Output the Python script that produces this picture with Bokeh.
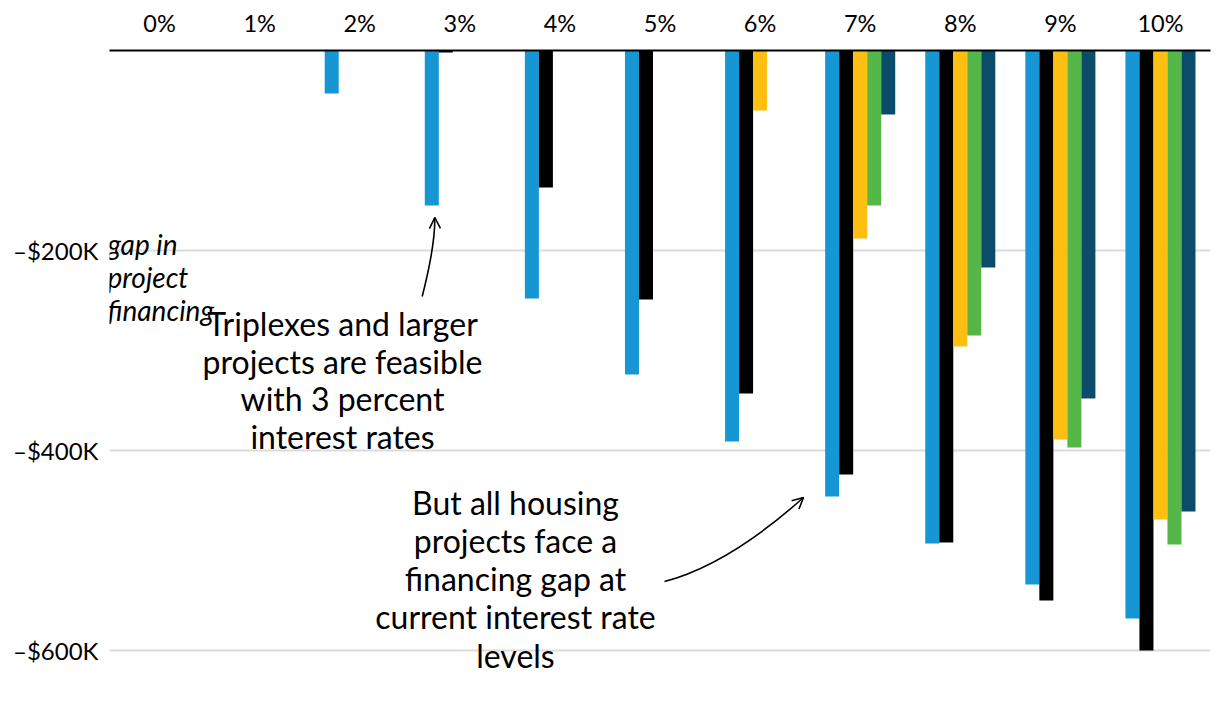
import numpy as np
from bokeh.plotting import figure
from bokeh.models import Range1d, FixedTicker, Label, Arrow, OpenHead
from bokeh.embed import file_html
from bokeh.resources import INLINE

# ---- data (values in $K) ----
rates = ["0%", "1%", "2%", "3%", "4%", "5%", "6%", "7%", "8%", "9%", "10%"]
series_blue = [None, None, -43, -155, -248, -324, -391, -446, -493, -534, -568]
series_black = [None, None, None, -2, -137, -249, -343, -424, -492, -550, -600]
series_yellow = [None, None, None, None, None, None, -60, -188, -296, -389, -469]
series_green = [None, None, None, None, None, None, None, -155, -285, -397, -494]
series_teal = [None, None, None, None, None, None, None, -64, -217, -348, -461]
y_ticks = [-200, -400, -600]
y_tick_labels = ["\u2013$200K", "\u2013$400K", "\u2013$600K"]

colors = ["#1696d2", "#000000", "#fdbf11", "#55b748", "#0a4c6a"]
all_series = [series_blue, series_black, series_yellow, series_green, series_teal]

FONT = "Lato"

p = figure(width=1220, height=706, output_backend="svg", toolbar_location=None,
           x_range=Range1d(-0.5, len(rates) - 0.5), y_range=Range1d(-656, 0),
           x_axis_location="above", min_border_left=109, min_border_right=10,
           min_border_top=50, min_border_bottom=0)
p.outline_line_color = None
p.background_fill_color = "white"
p.border_fill_color = "white"

xs = np.arange(len(rates))
bw = 0.14
offsets = [-2 * bw, -bw, 0, bw, 2 * bw]
for vals, col, off in zip(all_series, colors, offsets):
    top = np.array([np.nan if v is None else v for v in vals], dtype=float)
    p.vbar(x=xs + off, top=top, bottom=0, width=bw, fill_color=col, line_color=None)

# x axis (top)
xa = p.xaxis[0]
xa.ticker = FixedTicker(ticks=list(range(len(rates))))
xa.major_label_overrides = {i: r for i, r in enumerate(rates)}
xa.axis_line_color = "black"
xa.axis_line_width = 2
xa.major_tick_line_color = None
xa.minor_tick_line_color = None
xa.major_tick_out = 0
xa.major_tick_in = 0
xa.minor_tick_out = 0
xa.minor_tick_in = 0
xa.major_label_text_font = FONT
xa.major_label_text_font_size = "23.5px"
xa.major_label_text_color = "black"
xa.major_label_standoff = 14

# y axis
ya = p.yaxis[0]
ya.ticker = FixedTicker(ticks=y_ticks)
ya.major_label_overrides = {t: l for t, l in zip(y_ticks, y_tick_labels)}
ya.axis_line_color = None
ya.major_tick_line_color = None
ya.minor_tick_line_color = None
ya.major_tick_out = 0
ya.major_tick_in = 0
ya.minor_tick_out = 0
ya.minor_tick_in = 0
ya.major_label_text_font = FONT
ya.major_label_text_font_size = "24px"
ya.major_label_text_color = "black"
ya.major_label_standoff = 11

p.xgrid.visible = False
p.ygrid.ticker = FixedTicker(ticks=y_ticks)
p.ygrid.grid_line_color = "#dcdcdc"
p.ygrid.grid_line_width = 2

# helpers: pixel position of the reference -> data
def dx(px):
    return (px - 159.05) / 100.09

def dy(py):
    return -(py - 50)

# italic axis note
for txt, base in zip(["gap in", "project", "financing"], [254, 287, 320]):
    p.add_layout(Label(x=dx(107), y=dy(base), y_offset=11, text=txt, text_font=FONT,
                       text_font_style="italic", text_font_size="28px",
                       text_color="black", text_baseline="alphabetic", text_align="left"))

note1 = ["Triplexes and larger", "projects are feasible", "with 3 percent", "interest rates"]
for txt, base in zip(note1, [335, 373, 410, 448]):
    p.add_layout(Label(x=dx(342), y=dy(base), y_offset=12, text=txt, text_font=FONT,
                       text_font_size="32px", text_color="black",
                       text_baseline="alphabetic", text_align="center"))

note2 = ["But all housing", "projects face a", "financing gap at", "current interest rate", "levels"]
for txt, base in zip(note2, [514, 552, 590, 628, 667]):
    p.add_layout(Label(x=dx(515), y=dy(base), y_offset=12, text=txt, text_font=FONT,
                       text_font_size="32px", text_color="black",
                       text_baseline="alphabetic", text_align="center"))

# curved arrows
arrows = [
    ((421.7, 296), (434.7, 245), (434.3, 217)),
    ((664, 581), (728, 564), (803, 497)),
]
for (sx, sy), (cx, cy), (ex, ey) in arrows:
    p.quadratic(x0=[dx(sx)], y0=[dy(sy)], x1=[dx(ex)], y1=[dy(ey)],
                cx=[dx(cx)], cy=[dy(cy)], line_color="black", line_width=1.6)
    p.add_layout(Arrow(end=OpenHead(size=11, line_width=1.6, line_color="black"),
                       x_start=dx(cx), y_start=dy(cy), x_end=dx(ex), y_end=dy(ey),
                       line_alpha=0))

open("out.html", "w").write(file_html(p, INLINE))
